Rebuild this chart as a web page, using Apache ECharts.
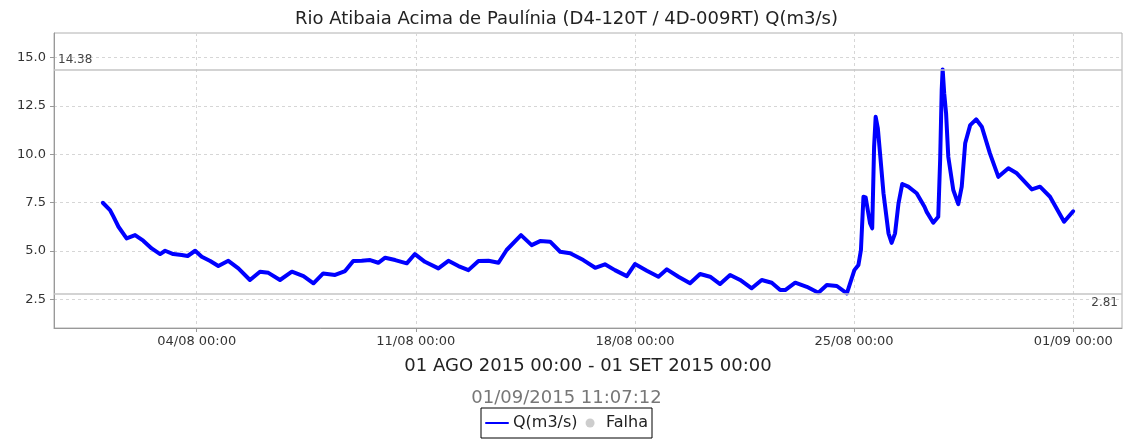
<!DOCTYPE html>
<html>
<head>
<meta charset="utf-8">
<script src="https://cdn.jsdelivr.net/npm/echarts@6/dist/echarts.min.js"></script>
<style>
  html, body { margin: 0; padding: 0; background: #fff; }
  #main { width: 1133px; height: 441px; }
</style>
</head>
<body>
<div id="main"></div>
<script>
// days after 01/08/2015 00:00
let dayOffsets = [
  0.00, 0.23, 0.34, 0.50, 0.76, 1.03, 1.29, 1.56, 1.83, 1.99, 2.25, 2.52, 2.71, 2.95, 3.16, 3.43,
  3.69, 4.01, 4.33, 4.70, 5.02, 5.29, 5.66, 6.04, 6.41, 6.73, 7.04, 7.42, 7.74, 8.00, 8.27, 8.54,
  8.80, 9.02, 9.34, 9.71, 9.97, 10.29, 10.72, 11.04, 11.36, 11.68, 12.00, 12.32, 12.64, 12.90, 13.36, 13.70,
  13.97, 14.29, 14.61, 14.93, 15.35, 15.73, 16.04, 16.36, 16.74, 17.00, 17.38, 17.75, 18.02, 18.39, 18.76, 19.08,
  19.40, 19.72, 20.04, 20.36, 20.73, 21.05, 21.37, 21.64, 21.80, 22.12, 22.49, 22.86, 23.13, 23.45, 23.77, 24.01,
  24.14, 24.22, 24.30, 24.37, 24.51, 24.58, 24.64, 24.69, 24.76, 24.83, 24.94, 25.10, 25.20, 25.31, 25.42, 25.54,
  25.73, 26.00, 26.25, 26.32, 26.53, 26.69, 26.75, 26.80, 26.83, 26.88, 26.94, 27.01, 27.17, 27.33, 27.44, 27.55,
  27.71, 27.90, 28.08, 28.34, 28.61, 28.93, 29.20, 29.68, 29.94, 30.26, 30.71, 31.00
];
let flowValues = [
  7.49, 7.11, 6.77, 6.25, 5.65, 5.82, 5.53, 5.13, 4.84, 5.01, 4.84, 4.79, 4.74, 5.01, 4.70, 4.48,
  4.22, 4.49, 4.10, 3.50, 3.93, 3.87, 3.50, 3.93, 3.70, 3.33, 3.84, 3.76, 3.96, 4.48, 4.49, 4.53,
  4.39, 4.65, 4.53, 4.36, 4.84, 4.44, 4.10, 4.49, 4.22, 4.01, 4.48, 4.49, 4.39, 5.05, 5.82, 5.30,
  5.51, 5.48, 4.96, 4.88, 4.53, 4.13, 4.31, 4.01, 3.70, 4.32, 3.98, 3.67, 4.05, 3.67, 3.33, 3.81,
  3.67, 3.29, 3.76, 3.50, 3.07, 3.50, 3.36, 2.98, 2.98, 3.36, 3.15, 2.84, 3.24, 3.19, 2.81, 4.01,
  4.28, 5.05, 7.80, 7.77, 6.43, 6.17, 10.38, 11.93, 11.33, 10.04, 7.98, 5.91, 5.42, 5.91, 7.46, 8.46,
  8.32, 7.98, 7.28, 7.02, 6.46, 6.77, 9.70, 13.31, 14.38, 13.14, 12.11, 9.87, 8.15, 7.42, 8.32, 10.56,
  11.50, 11.80, 11.42, 10.04, 8.83, 9.27, 9.01, 8.18, 8.32, 7.80, 6.51, 7.05
];
let tickDays = [3, 10, 17, 24, 31];
let tickLabels = ['04/08 00:00', '11/08 00:00', '18/08 00:00', '25/08 00:00', '01/09 00:00'];
let yTicks = [2.5, 5.0, 7.5, 10.0, 12.5, 15.0];
let maxFlow = 14.38;
let minFlow = 2.81;

let font = 'DejaVu Sans';
let myChart = echarts.init(document.getElementById('main'));

let points = dayOffsets.map(function (d, i) { return [d, flowValues[i]]; });

let gridLine = { show: true, lineStyle: { color: '#d6d6d6', type: [3, 3], width: 1 } };

let option = {
  animation: false,
  backgroundColor: '#fff',
  textStyle: { fontFamily: font },
  title: [
    {
      text: 'Rio Atibaia Acima de Paulínia (D4-120T / 4D-009RT) Q(m3/s)',
      left: 'center', top: 5,
      textStyle: { fontFamily: font, fontSize: 18, fontWeight: 'normal', color: '#222' }
    },
    {
      text: '01/09/2015 11:07:12',
      left: 'center', top: 384,
      textStyle: { fontFamily: font, fontSize: 18, fontWeight: 'normal', color: '#777' }
    }
  ],
  grid: {
    left: 54, right: 11, top: 33, bottom: 113,
    show: true, borderColor: '#b0b0b0', borderWidth: 1
  },
  legend: {
    top: 408, left: 'center',
    padding: [7, 4],
    itemGap: 8, itemWidth: 22, itemHeight: 9,
    borderColor: '#000', borderWidth: 1,
    textStyle: { fontFamily: font, fontSize: 16, color: '#222' },
    data: [
      { name: 'Q(m3/s)', itemStyle: { opacity: 0 } },
      { name: 'Falha', icon: 'circle' }
    ]
  },
  xAxis: {
    type: 'value',
    min: -1.56, max: 32.56,
    name: '01 AGO 2015 00:00 - 01 SET 2015 00:00',
    nameLocation: 'middle', nameGap: 29,
    nameTextStyle: { fontFamily: font, fontSize: 18, color: '#222' },
    axisLine: { show: true, onZero: false, lineStyle: { color: '#999' } },
    axisTick: { show: true, length: 4, customValues: tickDays, lineStyle: { color: '#999' } },
    axisLabel: {
      customValues: tickDays, margin: 7,
      fontFamily: font, fontSize: 13, color: '#333',
      formatter: function (v) { return tickLabels[tickDays.indexOf(Math.round(v))] || ''; }
    },
    splitLine: gridLine
  },
  yAxis: {
    type: 'value',
    min: 1.02, max: 16.26,
    axisLine: { show: true, onZero: false, lineStyle: { color: '#999' } },
    axisTick: { show: true, length: 4, customValues: yTicks, lineStyle: { color: '#999' } },
    axisLabel: {
      customValues: yTicks, margin: 8,
      fontFamily: font, fontSize: 13, color: '#333',
      formatter: function (v) { return v.toFixed(1); }
    },
    splitLine: gridLine
  },
  series: [
    {
      name: 'Q(m3/s)',
      type: 'line',
      data: points,
      symbol: 'none',
      color: '#0000ff',
      lineStyle: { color: '#0000ff', width: 4, join: 'round', cap: 'round' },
      z: 3,
      markLine: {
        silent: true,
        symbol: 'none',
        lineStyle: { color: '#c4c4c4', type: 'solid', width: 1.5 },
        data: [
          { yAxis: maxFlow, label: { position: 'insideStartTop', formatter: String(maxFlow) } },
          { yAxis: minFlow, label: { position: 'insideEndBottom', formatter: String(minFlow) } }
        ],
        label: { fontFamily: font, fontSize: 12, color: '#444', distance: 4 }
      }
    },
    {
      name: 'Falha',
      type: 'scatter',
      data: [],
      color: '#c0c0c0'
    }
  ]
};
myChart.setOption(option);
</script>
</body>
</html>
